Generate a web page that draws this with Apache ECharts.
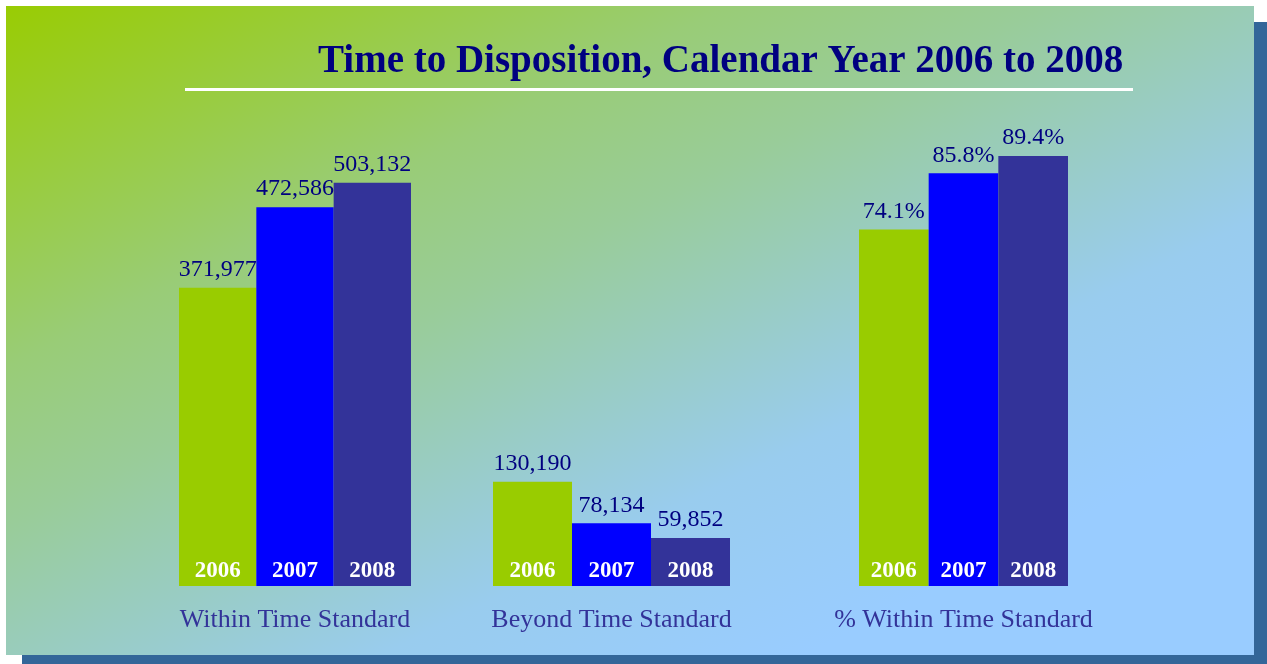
<!DOCTYPE html>
<html>
<head>
<meta charset="utf-8">
<title>Time to Disposition</title>
<script src="https://cdn.jsdelivr.net/npm/echarts@6/dist/echarts.min.js"></script>
<style>
  html, body { margin: 0; padding: 0; background: #fff; }
  #chart { width: 1267px; height: 664px; }
</style>
</head>
<body>
<div id="chart"></div>
<script>
const years = ['2006', '2007', '2008']
const groups = ['Within Time Standard', 'Beyond Time Standard', '% Within Time Standard']
const withinStd = [371977, 472586, 503132]
const beyondStd = [130190, 78134, 59852]
const pctWithin = [74.1, 85.8, 89.4]
const yearColors = ['#99cc00', '#0000ff', '#333399']

const groupValues = [withinStd, beyondStd, pctWithin]
const groupMax = [600000, 600000, 100]
// one small grid per group, sitting where its bars are
const gridPos = [
  { left: 179, width: 232 },
  { left: 493, width: 237 },
  { left: 859, width: 209 }
]
const font = 'Liberation Serif'

const grid = []
const xAxis = []
const yAxis = []
const series = []

gridPos.forEach((g, i) => {
  grid.push({ left: g.left, width: g.width, top: 105, bottom: 78 })

  // years written inside the bottom of each bar
  xAxis.push({
    gridIndex: i,
    type: 'category',
    data: years,
    z: 10,
    axisLine: { show: false },
    axisTick: { show: false },
    axisLabel: {
      inside: true, interval: 0, margin: 3,
      color: '#fff', fontWeight: 'bold', fontSize: 23, fontFamily: font
    }
  })
  // group name under the bars
  xAxis.push({
    gridIndex: i,
    type: 'category',
    position: 'bottom',
    data: [groups[i]],
    axisLine: { show: false },
    axisTick: { show: false },
    axisLabel: { margin: 21, color: '#333399', fontSize: 26, fontFamily: font }
  })

  yAxis.push({ gridIndex: i, type: 'value', min: 0, max: groupMax[i], show: false })

  series.push({
    type: 'bar',
    xAxisIndex: i * 2,
    yAxisIndex: i,
    barCategoryGap: '0%',
    data: groupValues[i].map((v, j) => ({ value: v, itemStyle: { color: yearColors[j] } })),
    label: {
      show: true,
      position: 'top',
      distance: 6,
      color: '#000080',
      fontSize: 24,
      fontFamily: font,
      formatter: p => i === 2 ? p.value.toFixed(1) + '%' : p.value.toLocaleString('en-US')
    }
  })
})

const option = {
  animation: false,
  title: {
    text: 'Time to Disposition, Calendar Year 2006 to 2008',
    left: 313,
    top: 37,
    textStyle: { color: '#000080', fontSize: 39, fontWeight: 'bold', fontFamily: font }
  },
  graphic: [
    // drop shadow
    { type: 'rect', z: -20, shape: { x: 22, y: 22, width: 1245, height: 642 }, style: { fill: '#336699' } },
    // panel
    {
      type: 'rect', z: -10,
      shape: { x: 6, y: 6, width: 1248, height: 649 },
      style: {
        fill: new echarts.graphic.LinearGradient(0, 0, 423, 846, [
          { offset: 0, color: '#99cc00' },
          { offset: 0.35, color: '#99cc77' },
          { offset: 0.5, color: '#99cc99' },
          { offset: 0.8, color: '#99ccee' },
          { offset: 1, color: '#99ccff' }
        ], true)
      }
    },
    // white rule under the title
    { type: 'rect', z: -5, shape: { x: 185, y: 88, width: 948, height: 3 }, style: { fill: '#fff' } }
  ],
  grid: grid,
  xAxis: xAxis,
  yAxis: yAxis,
  series: series
}

const chart = echarts.init(document.getElementById('chart'))
chart.setOption(option)
</script>
</body>
</html>
